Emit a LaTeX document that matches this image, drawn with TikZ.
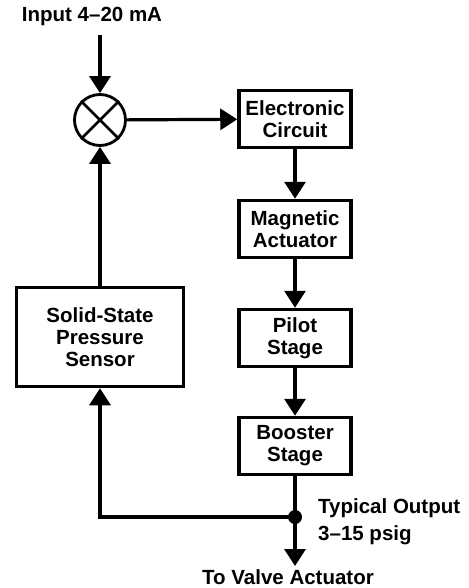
\documentclass[tikz,border=0pt]{standalone}
\usepackage{fontspec}
\setmainfont{Liberation Sans}
\usepackage{tikz}
\usetikzlibrary{arrows.meta, positioning}

\begin{document}
\begin{tikzpicture}[
  x=1pt, y=-1pt,
  box/.style={draw, line width=3.5pt, minimum width=112pt, minimum height=57pt, align=center, inner sep=2pt, font=\fontsize{20.5}{22}\selectfont\bfseries},
  lbl/.style={font=\fontsize{20.5}{27}\selectfont\bfseries, inner sep=0pt},
  arr/.style={-{Triangle[length=17pt, width=21pt]}, line width=3.2pt}
]
  \useasboundingbox (0,0) rectangle (468,588);

  \node[lbl] (input) at (92,16) {Input 4--20 mA};
  \node[draw, circle, line width=2.8pt, minimum size=51pt, inner sep=0pt] (sum) at (100,120) {};
  \draw[line width=2.8pt] (sum.north west) -- (sum.south east) (sum.north east) -- (sum.south west);

  \node[box] (elec) at (295,119) {Electronic\\Circuit};
  \node[box] (mag) at (295,229) {Magnetic\\Actuator};
  \node[box] (pilot) at (295,338) {Pilot\\Stage};
  \node[box] (boost) at (295,446) {Booster\\Stage};
  \node[box, minimum width=167pt, minimum height=99pt] (sensor) at (100,337) {Solid-State\\Pressure\\Sensor};

  \coordinate (top) at (100,35);
  \coordinate (jn) at (295,517);
  \coordinate (out) at (295,566);
  \node[lbl, anchor=north west, align=left] (typ) at (318,498) {Typical Output\\3--15 psig};
  \node[lbl] (valve) at (288,577) {To Valve Actuator};

  \draw[arr] (top) -- (sum.north);
  \draw[arr] (sum) -- (elec);
  \draw[arr] (elec) -- (mag);
  \draw[arr] (mag) -- (pilot);
  \draw[arr] (pilot) -- (boost);
  \draw[arr] (boost) -- (out);
  \draw[arr] (jn) -| (sensor.south);
  \draw[arr] (sensor) -- (sum);
  \fill (jn) circle (7);
\end{tikzpicture}
\end{document}
